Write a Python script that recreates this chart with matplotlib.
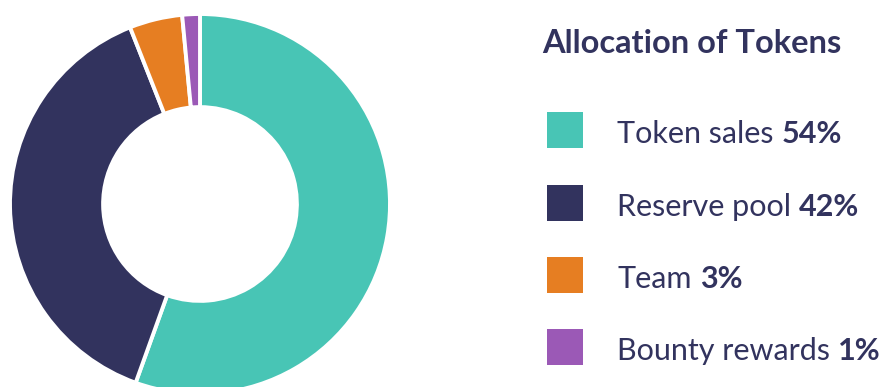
import matplotlib
matplotlib.use("Agg")
import matplotlib.pyplot as plt
from matplotlib.patches import Rectangle

# Data
categories = ["Token sales", "Reserve pool", "Team", "Bounty rewards"]
label_pct = ["54%", "42%", "3%", "1%"]
slice_values = [55.5, 38.5, 4.5, 1.5]   # slice sizes as drawn in the picture
colors = ["#48C5B5", "#32335E", "#E67E22", "#9B59B6"]
title = "Allocation of Tokens"
text_color = "#32335E"

W, H = 886, 387
fig = plt.figure(figsize=(W / 100, H / 100), dpi=100)
plt.rcParams['font.family'] = ['Lato', 'DejaVu Sans']

# Donut
cx, cy, R = 200, 204, 190
ax = fig.add_axes([(cx - R) / W, (H - cy - R) / H, 2 * R / W, 2 * R / H])
ax.pie(slice_values, colors=colors, startangle=90, counterclock=False,
       radius=1.0, wedgeprops=dict(width=0.49, edgecolor="white", linewidth=2.8))
ax.set_xlim(-1, 1)
ax.set_ylim(-1, 1)
ax.set_aspect("equal")
ax.axis("off")

def fx(x):
    return x / W

def fy(y):
    return 1 - y / H

fig.text(fx(542), fy(53), title, fontsize=23.5, fontweight="bold",
         color=text_color, va="baseline", ha="left")

baselines = [143, 216, 288, 360]
for cat, pct, col, by in zip(categories, label_pct, colors, baselines):
    sq_top = by - 31
    fig.patches.append(Rectangle((fx(547), fy(sq_top + 36)), 36 / W, 36 / H,
                                 transform=fig.transFigure, facecolor=col,
                                 edgecolor="none"))
    t = fig.text(fx(617), fy(by), cat, fontsize=22, color=text_color,
                 va="baseline", ha="left")
    fig.add_artist(matplotlib.text.Annotation(
        pct, xy=(1, 0), xycoords=t, xytext=(6, 0), textcoords="offset points",
        fontsize=22, fontweight="bold", color=text_color, va="bottom", ha="left"))

fig.savefig("out.png", dpi=100)
